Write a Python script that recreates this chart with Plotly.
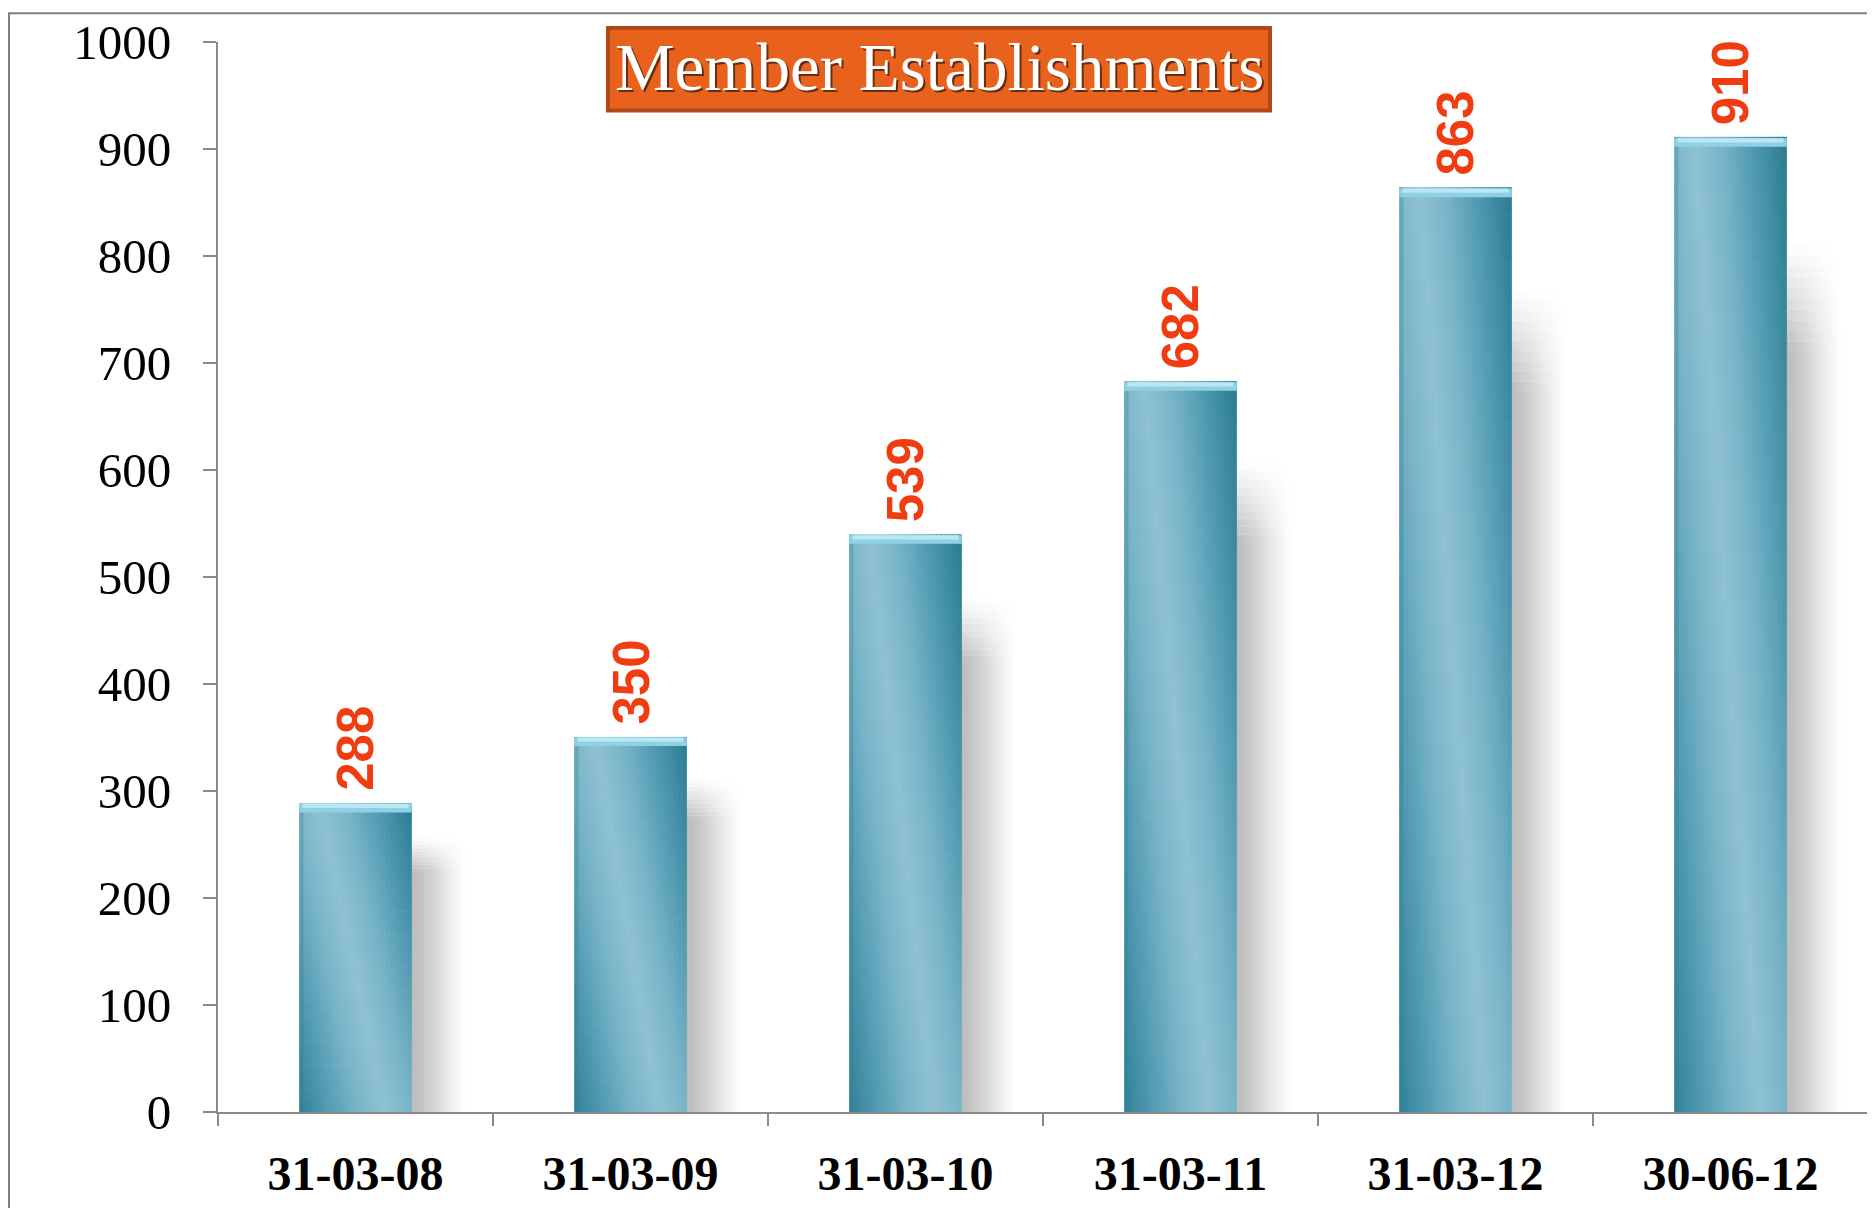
import plotly.graph_objects as go

categories = ["31-03-08", "31-03-09", "31-03-10", "31-03-11", "31-03-12", "30-06-12"]
values = [288, 350, 539, 682, 863, 910]
y_ticks = [0, 100, 200, 300, 400, 500, 600, 700, 800, 900, 1000]
title_text = "Member Establishments"

# page is offset by the 8px body margin of the html page
W, H = 1867, 1200
L, R, T, B = 210, 7, 28, 96
PX_L, PX_T, PW, PH = 218, 36, 1650, 1076  # plot area in page pixels

BAR_W = 0.41
N_SLICES = 26
N_VSEG = 40


def hex2rgb(h):
    return [int(h[k:k + 2], 16) for k in (1, 3, 5)]


def lerp_hex(stops, t):
    t = max(stops[0][0], min(stops[-1][0], t))
    for i in range(len(stops) - 1):
        t0, c0 = stops[i]
        t1, c1 = stops[i + 1]
        if t0 <= t <= t1:
            f = (t - t0) / (t1 - t0) if t1 > t0 else 0
            a, b = hex2rgb(c0), hex2rgb(c1)
            return "#%02x%02x%02x" % tuple(round(a[j] + (b[j] - a[j]) * f) for j in range(3))
    return stops[-1][1]


body_stops = [(0.0, "#8fc1d3"), (0.3, "#78b4c8"), (0.65, "#4f99b0"), (1.0, "#2c7d93")]
shadow_stops = [(0.0, "#b9b9b9"), (0.3, "#cbcbcb"), (0.65, "#e7e7e7"), (1.0, "#ffffff")]

fig = go.Figure()

# soft shadow to the right of each bar (one trace, many pieces)
SH_W = 0.2
SH_N = 20
fade_steps = 10
sx, sy, sb, so, sw, sc = [], [], [], [], [], []
for i in range(SH_N):
    t = (i + 0.5) / SH_N
    col = lerp_hex(shadow_stops, t)
    w = SH_W / SH_N
    segs = [(0.0, 0.78, 0.0)]
    for k in range(fade_steps):
        f0 = 0.78 + 0.11 * k / fade_steps
        f1 = 0.78 + 0.11 * (k + 1) / fade_steps
        segs.append((f0, f1, (k + 0.5) / fade_steps))
    for f0, f1, lighten in segs:
        c = lerp_hex([(0, col), (1, "#ffffff")], lighten)
        for cat, v in zip(categories, values):
            sx.append(cat)
            sy.append(v * (f1 - f0) * 1.01)
            sb.append(v * f0)
            so.append(BAR_W / 2 - 0.005 + i * w)
            sw.append(w * 1.2)
            sc.append(c)
fig.add_trace(go.Bar(x=sx, y=sy, base=sb, offset=so, width=sw,
                     marker=dict(color=sc, line=dict(width=0)),
                     hoverinfo="skip", showlegend=False))

# bar body: diagonal gradient built from small pieces (one trace)
bx, by, bb, bo, bw, bc = [], [], [], [], [], []
for j in range(N_VSEG):
    s = (j + 0.5) / N_VSEG          # 0 bottom .. 1 top
    peak = 0.76 - 0.58 * s          # light band moves left towards the top
    for i in range(N_SLICES):
        t = (i + 0.5) / N_SLICES
        d = abs(t - peak) / 0.8
        col = lerp_hex(body_stops, d)
        if t < 0.05:
            col = lerp_hex([(0, col), (1, "#2f7f95")], 0.3)
        w = BAR_W / N_SLICES
        for cat, v in zip(categories, values):
            bx.append(cat)
            by.append(v / N_VSEG * 1.06)
            bb.append(v * j / N_VSEG)
            bo.append(-BAR_W / 2 + i * w)
            bw.append(w * 1.3 if i < N_SLICES - 1 else w)
            bc.append(col)
fig.add_trace(go.Bar(x=bx, y=by, base=bb, offset=bo, width=bw,
                     marker=dict(color=bc, line=dict(width=0)),
                     hoverinfo="skip", showlegend=False))

# top bevel
fig.add_trace(go.Bar(
    x=categories, y=[8] * len(values), base=[v - 8 for v in values],
    width=BAR_W, offset=-BAR_W / 2,
    marker=dict(color="#8fd0e3", line=dict(width=0)),
    hoverinfo="skip", showlegend=False))
fig.add_trace(go.Bar(
    x=categories, y=[4] * len(values), base=[v - 4 for v in values],
    width=BAR_W * 0.94, offset=-BAR_W * 0.47,
    marker=dict(color="#b9e7f3", line=dict(width=0)),
    hoverinfo="skip", showlegend=False))

# data labels
for c, v in zip(categories, values):
    fig.add_annotation(
        x=c, y=v, text=str(v), textangle=-90, showarrow=False,
        xanchor="center", yanchor="bottom", yshift=11,
        font=dict(family="Liberation Sans", size=51, color="#f03c10", weight="bold"))

# title box
fig.add_shape(type="rect", xref="paper", yref="paper",
              x0=(608 - PX_L) / PW, x1=(1270 - PX_L) / PW,
              y0=(PX_T + PH - 105) / PH, y1=(PX_T + PH - 22) / PH,
              fillcolor="#e8621e", line=dict(color="#b04818", width=4), layer="above")
for dx, dy, colr in [(2, -2, "#6b2c0c"), (0, 0, "white")]:
    fig.add_annotation(xref="paper", yref="paper", x=(939 - PX_L) / PW, y=(PX_T + PH - 61) / PH,
                       text=title_text, showarrow=False, xanchor="center", yanchor="middle",
                       xshift=dx, yshift=dy,
                       font=dict(family="Liberation Serif", size=67, color=colr))

# outer frame
fig.add_shape(type="rect", xref="paper", yref="paper",
              x0=(9 - PX_L) / PW, x1=(1870 - PX_L) / PW,
              y0=(PX_T + PH - 1230) / PH, y1=(PX_T + PH - 7) / PH,
              line=dict(color="#808080", width=2), fillcolor="rgba(0,0,0,0)", layer="below")

fig.update_layout(
    width=W, height=H, barmode="overlay",
    margin=dict(l=L, r=R, t=T, b=B),
    paper_bgcolor="white", plot_bgcolor="white",
    showlegend=False,
    xaxis=dict(type="category", range=[-0.5, 5.5], showline=True, linecolor="#8a8a8a", linewidth=2,
               ticks="outside", tickson="boundaries", ticklen=12, tickwidth=2, tickcolor="#8a8a8a",
               showgrid=False, zeroline=False, ticklabelstandoff=18,
               tickfont=dict(family="Liberation Serif", size=48, color="black", weight="bold")),
    yaxis=dict(range=[0, 1000], tickvals=y_ticks, showline=True, linecolor="#8a8a8a", linewidth=2,
               ticks="outside", ticklen=13, tickwidth=2, tickcolor="#8a8a8a",
               showgrid=False, zeroline=False, ticklabelstandoff=22,
               tickfont=dict(family="Liberation Serif", size=49, color="black")),
)

fig.write_html("out.html")
